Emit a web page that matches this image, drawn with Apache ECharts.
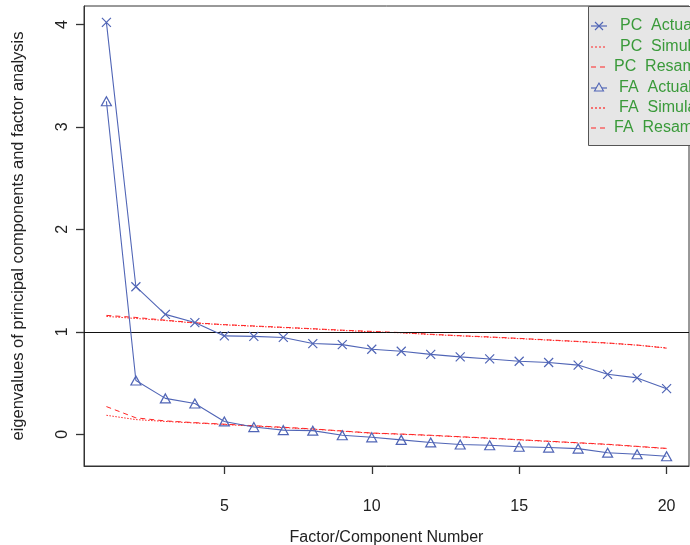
<!DOCTYPE html>
<html>
<head>
<meta charset="utf-8">
<title>Parallel analysis scree plot</title>
<script src="https://cdn.jsdelivr.net/npm/echarts@6/dist/echarts.min.js"></script>
<style>
  html, body { margin: 0; padding: 0; background: #fff; }
  #chart { width: 690px; height: 545px; }
</style>
</head>
<body>
<div id="chart"></div>
<script>
// factor / component numbers
var factorNumbers = [1, 2, 3, 4, 5, 6, 7, 8, 9, 10, 11, 12, 13, 14, 15, 16, 17, 18, 19, 20];

// eigenvalues
var pcActual = [4.02, 1.44, 1.17, 1.09, 0.96, 0.955, 0.945, 0.885, 0.875, 0.83, 0.81, 0.78, 0.755, 0.735, 0.712, 0.70, 0.675, 0.585, 0.55, 0.445];
var pcSimulated = [1.15, 1.13, 1.11, 1.085, 1.068, 1.054, 1.041, 1.028, 1.013, 1.0, 0.99, 0.973, 0.96, 0.947, 0.933, 0.918, 0.904, 0.889, 0.869, 0.843];
var pcResampled = [1.16, 1.14, 1.113, 1.088, 1.07, 1.057, 1.044, 1.03, 1.016, 1.004, 0.992, 0.976, 0.962, 0.95, 0.936, 0.921, 0.906, 0.891, 0.871, 0.84];
var faActual = [3.25, 0.525, 0.35, 0.30, 0.125, 0.07, 0.04, 0.035, -0.01, -0.03, -0.055, -0.08, -0.1, -0.108, -0.122, -0.13, -0.14, -0.18, -0.195, -0.215];
var faSimulated = [0.185, 0.143, 0.125, 0.11, 0.095, 0.08, 0.065, 0.05, 0.03, 0.01, 0.0, -0.012, -0.026, -0.04, -0.055, -0.07, -0.085, -0.1, -0.12, -0.14];
var faResampled = [0.27, 0.16, 0.13, 0.113, 0.098, 0.083, 0.068, 0.052, 0.032, 0.012, 0.002, -0.01, -0.024, -0.038, -0.053, -0.068, -0.083, -0.098, -0.118, -0.138];

// tick labels
var xTicks = [5, 10, 15, 20];
var yTicks = [0, 1, 2, 3, 4];

var legendNames = ["PC  Actual Data", "PC  Simulated Data", "PC  Resampled Data", "FA  Actual  Data", "FA  Simulated Data", "FA  Resampled Data"];

var blue = "#5065b6";
var red = "#ff2424";
var green = "#3a9a3a";
var crossPath = "path://M0,0L10,10M10,0L0,10";

function pairs(values) {
	return values.map(function (v, i) {
		return [factorNumbers[i], v];
	});
}

var chart = echarts.init(document.getElementById("chart"), null, { renderer: "canvas" });

// legend drawn by hand, it runs off the right edge in the original
var legendRows = [26, 47, 67, 88, 108, 128];
var legendTextX = [620, 620, 614, 619, 619, 614];
var legendGraphics = [
	{
		type: "rect",
		shape: { x: 588.5, y: 6.5, width: 120, height: 139 },
		style: { fill: "#e6e6e6", stroke: "#555", lineWidth: 1 },
		z: 100,
	},
];
legendNames.forEach(function (name, i) {
	legendGraphics.push({
		type: "text",
		x: legendTextX[i],
		y: legendRows[i],
		style: {
			text: name,
			fill: green,
			font: "16px 'Liberation Sans', Arial, sans-serif",
			verticalAlign: "middle",
		},
		z: 101,
	});
	var solid = i === 0 || i === 3;
	var dash = solid ? null : i === 1 || i === 4 ? [2, 2] : [5, 4];
	legendGraphics.push({
		type: "line",
		shape: { x1: 591, y1: legendRows[i], x2: 607, y2: legendRows[i] },
		style: { stroke: solid ? blue : red, lineWidth: 1.2, lineDash: dash },
		z: 101,
	});
});
legendGraphics.push({
	type: "polyline",
	shape: { points: [[595, 22], [603, 30]] },
	style: { stroke: blue, lineWidth: 1.1 },
	z: 102,
});
legendGraphics.push({
	type: "polyline",
	shape: { points: [[603, 22], [595, 30]] },
	style: { stroke: blue, lineWidth: 1.1 },
	z: 102,
});
legendGraphics.push({
	type: "polygon",
	shape: { points: [[599, 83], [594.5, 91], [603.5, 91]] },
	style: { fill: "#e6e6e6", stroke: blue, lineWidth: 1.1 },
	z: 102,
});

var axisFont = { fontFamily: "'Liberation Sans', Arial, sans-serif", color: "#222" };

var option = {
	animation: false,
	backgroundColor: "#fff",
	grid: {
		left: 84,
		right: 1,
		top: 6,
		bottom: 79,
		outerBoundsMode: "none",
		show: true,
		borderColor: "#333",
		borderWidth: 1,
	},
	xAxis: {
		type: "value",
		min: 0.24,
		max: 20.76,
		name: "Factor/Component Number",
		nameLocation: "middle",
		nameGap: 64,
		nameTextStyle: Object.assign({ fontSize: 16 }, axisFont),
		axisLine: { show: true, onZero: false, lineStyle: { color: "#333", width: 1 } },
		splitLine: { show: false },
		axisTick: { show: true, length: 8, customValues: xTicks, lineStyle: { color: "#333", width: 1.3 } },
		axisLabel: Object.assign({ fontSize: 16, margin: 33, customValues: xTicks }, axisFont),
	},
	yAxis: {
		type: "value",
		min: -0.31,
		max: 4.18,
		name: "eigenvalues of principal components and factor analysis",
		nameLocation: "middle",
		nameGap: 57,
		nameRotate: 90,
		nameTextStyle: Object.assign({ fontSize: 16.5 }, axisFont),
		axisLine: { show: true, onZero: false, lineStyle: { color: "#333", width: 1 } },
		splitLine: { show: false },
		axisTick: { show: true, length: 8, customValues: yTicks, lineStyle: { color: "#333", width: 1.3 } },
		axisLabel: Object.assign({ fontSize: 16, margin: 13, rotate: 90, customValues: yTicks }, axisFont),
	},
	graphic: legendGraphics,
	series: [
		{
			name: legendNames[0],
			type: "line",
			data: pairs(pcActual),
			symbol: crossPath,
			symbolSize: 9,
			showAllSymbol: true,
			lineStyle: { color: blue, width: 1.1 },
			itemStyle: { color: "transparent", borderColor: blue, borderWidth: 1.2 },
			markLine: {
				silent: true,
				symbol: "none",
				label: { show: false },
				lineStyle: { color: "#111", type: "solid", width: 1 },
				data: [{ yAxis: 1 }],
			},
			z: 5,
		},
		{
			name: legendNames[1],
			type: "line",
			data: pairs(pcSimulated),
			symbol: "none",
			lineStyle: { color: red, width: 1, type: [1.5, 1.5] },
			z: 3,
		},
		{
			name: legendNames[2],
			type: "line",
			data: pairs(pcResampled),
			symbol: "none",
			lineStyle: { color: red, width: 1, type: [5, 4] },
			z: 3,
		},
		{
			name: legendNames[3],
			type: "line",
			data: pairs(faActual),
			symbol: "triangle",
			symbolSize: [10, 9],
			showAllSymbol: true,
			lineStyle: { color: blue, width: 1.1 },
			itemStyle: { color: "transparent", borderColor: blue, borderWidth: 1.2 },
			z: 5,
		},
		{
			name: legendNames[4],
			type: "line",
			data: pairs(faSimulated),
			symbol: "none",
			lineStyle: { color: red, width: 1, type: [1.5, 1.5] },
			z: 3,
		},
		{
			name: legendNames[5],
			type: "line",
			data: pairs(faResampled),
			symbol: "none",
			lineStyle: { color: red, width: 1, type: [5, 4] },
			z: 3,
		},
	],
};

chart.setOption(option);
</script>
</body>
</html>
